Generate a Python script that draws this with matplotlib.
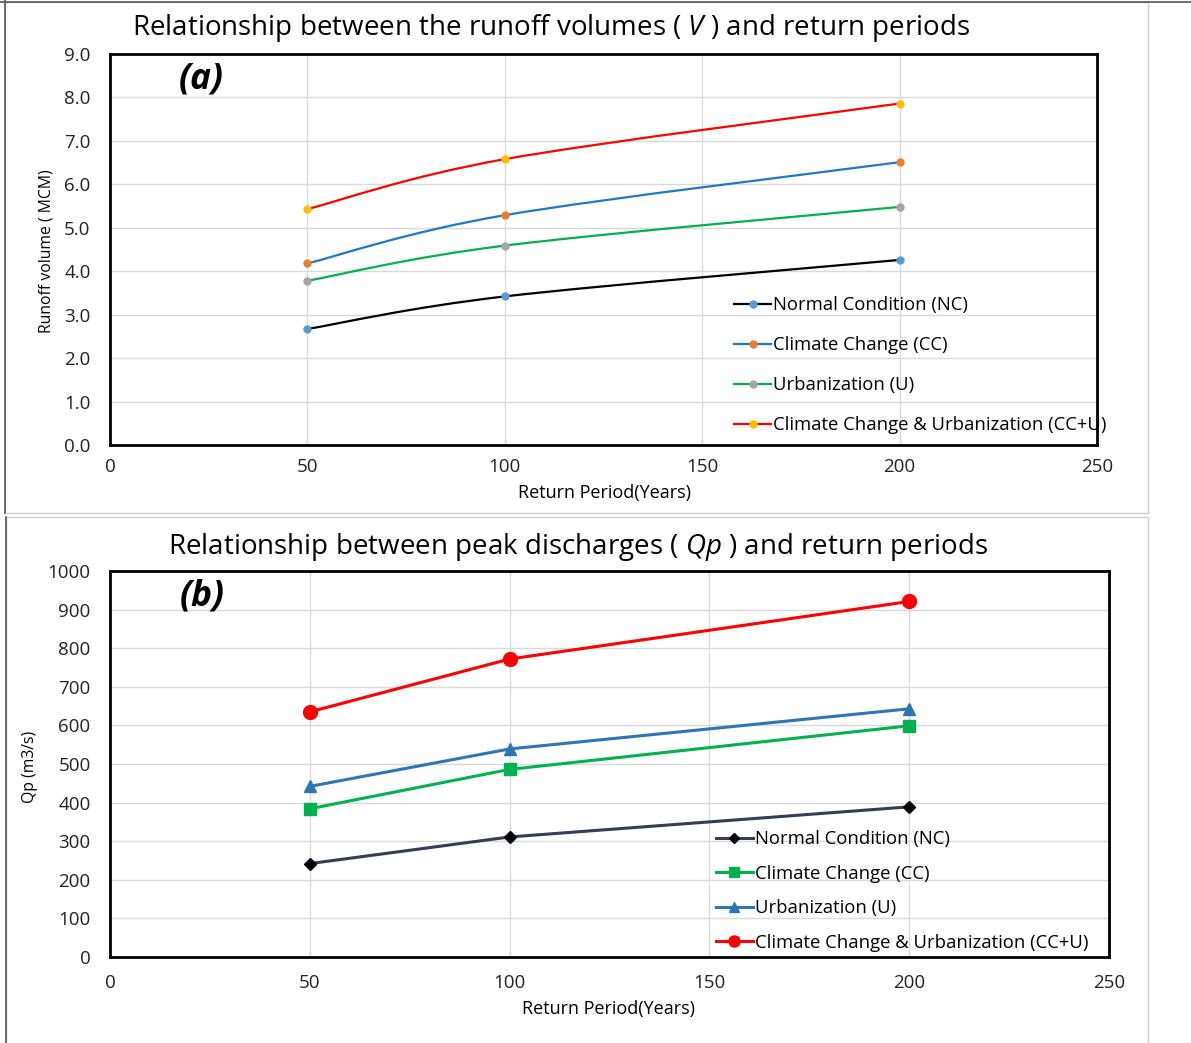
import numpy as np
import matplotlib
matplotlib.use("Agg")
import matplotlib.pyplot as plt
from matplotlib.path import Path
from matplotlib.patches import PathPatch, Rectangle
from matplotlib.lines import Line2D

plt.rcParams['font.family'] = ['Open Sans', 'DejaVu Sans']
plt.rcParams['mathtext.fontset'] = 'custom'
plt.rcParams['mathtext.it'] = 'Open Sans:italic'
plt.rcParams['mathtext.rm'] = 'Open Sans'

# data
periods = [50, 100, 200]
labels = ["Normal Condition (NC)", "Climate Change (CC)", "Urbanization (U)",
          "Climate Change & Urbanization (CC+U)"]

vol_nc = [2.67, 3.42, 4.26]
vol_cc = [4.18, 5.29, 6.51]
vol_u = [3.78, 4.59, 5.48]
vol_ccu = [5.43, 6.58, 7.86]

qp_nc = [242, 311, 389]
qp_cc = [384, 486, 599]
qp_u = [442, 539, 643]
qp_ccu = [635, 772, 921]


def smooth_path(x, y):
    # excel style smoothed line: bezier through points (catmull-rom, 1/6)
    P = np.column_stack([x, y]).astype(float)
    n = len(P)
    verts = [P[0]]
    codes = [Path.MOVETO]
    for i in range(n - 1):
        p0 = P[i - 1] if i > 0 else P[i]
        p1 = P[i]
        p2 = P[i + 1]
        p3 = P[i + 2] if i + 2 < n else P[i + 1]
        c1 = p1 + (p2 - p0) / 6.0
        c2 = p2 - (p3 - p1) / 6.0
        verts += [c1, c2, p2]
        codes += [Path.CURVE4] * 3
    return Path(verts, codes)


fig = plt.figure(figsize=(11.91, 10.43), dpi=100)

# chart-area frames
fig.patches.append(Rectangle((5 / 1191, 1 - 513 / 1043), 1143 / 1191, 511 / 1043,
                             transform=fig.transFigure, fill=False,
                             edgecolor='#d0d0d0', lw=1))
fig.patches.append(Rectangle((6 / 1191, -0.01), 1142 / 1191, 1 - 517 / 1043 + 0.01,
                             transform=fig.transFigure, fill=False,
                             edgecolor='#d0d0d0', lw=1))
fig.add_artist(Line2D([5 / 1191, 5 / 1191], [1 - 513 / 1043, 1], color='#555555', lw=1.2))
fig.add_artist(Line2D([0, 1], [1 - 2 / 1043, 1 - 2 / 1043], color='#555555', lw=1.2))
fig.add_artist(Line2D([6 / 1191, 6 / 1191], [0, 1 - 517 / 1043], color='#555555', lw=1.2))


def style_axes(ax, ymax, ystep, fmt, ypad, xpad):
    ax.set_xlim(0, 250)
    ax.set_ylim(0, ymax)
    ax.set_xticks(np.arange(0, 251, 50))
    ax.set_yticks(np.arange(0, ymax + ystep / 2, ystep))
    ax.set_yticklabels([fmt % v for v in np.arange(0, ymax + ystep / 2, ystep)])
    ax.grid(True, color='#d9d9d9', lw=1)
    ax.set_axisbelow(True)
    ax.tick_params(axis='both', length=0, labelsize=13.5, colors='#222222')
    ax.tick_params(axis='y', pad=ypad)
    ax.tick_params(axis='x', pad=xpad)
    for s in ax.spines.values():
        s.set_linewidth(2)
        s.set_color('black')


# ---- (a) runoff volumes
ax1 = fig.add_axes([110 / 1191, 1 - 445 / 1043, 987 / 1191, 391 / 1043])
style_axes(ax1, 9.0, 1.0, '%.1f', 14, 9)

top_series = [vol_nc, vol_cc, vol_u, vol_ccu]
top_lines = ['black', '#1f77c8', '#00b050', '#ff0000']
top_marks = ['#5b9bd5', '#ed7d31', '#a5a5a5', '#ffc000']
handles = []
for vals, lc, mc, lab in zip(top_series, top_lines, top_marks, labels):
    ax1.add_patch(PathPatch(smooth_path(periods, vals), fill=False, edgecolor=lc, lw=1.6))
    ax1.plot(periods, vals, ls='none', marker='o', ms=5, mfc=mc, mec=mc)
    handles.append(Line2D([], [], color=lc, lw=1.6, marker='o', ms=5, mfc=mc, mec=mc))
ax1.legend(handles, labels, loc='upper left', bbox_to_anchor=(0.625, 0.40),
           frameon=False, fontsize=13.3, labelspacing=1.2, handlelength=2.0,
           handletextpad=0.1, borderaxespad=0)
ax1.text(0.07, 0.935, '(a)', transform=ax1.transAxes, fontsize=25.5,
         fontweight='bold', fontstyle='italic', va='center', ha='left')

fig.text(551 / 1191, 1 - 28 / 1043, 'Relationship between the runoff volumes ( $V$ ) and return periods',
         ha='center', va='center', fontsize=20)
fig.text(604 / 1191, 1 - 493 / 1043, 'Return Period(Years)', ha='center', va='center', fontsize=13)
fig.text(47 / 1191, 1 - 251 / 1043, 'Runoff volume ( MCM)', ha='center', va='center',
         rotation=90, fontsize=11.3)

# ---- (b) peak discharges
ax2 = fig.add_axes([110 / 1191, 1 - 957 / 1043, 999 / 1191, 386 / 1043])
style_axes(ax2, 1000, 100, '%d', 14, 12)

bot_series = [qp_nc, qp_cc, qp_u, qp_ccu]
bot_colors = ['#333f50', '#00b050', '#2e75b6', '#ff0000']
bot_marks = ['D', 's', '^', 'o']
bot_mfc = ['black', '#00b050', '#2e75b6', '#ff0000']
bot_ms = [6.5, 9, 9, 10]
handles = []
for vals, c, m, mf, ms, lab in zip(bot_series, bot_colors, bot_marks, bot_mfc, bot_ms, labels):
    ax2.plot(periods, vals, color=c, lw=2.2, marker=m, ms=ms, mfc=mf, mec=mf, label=lab)
    handles.append(Line2D([], [], color=c, lw=2.2, marker=m, ms=ms * 0.8, mfc=mf, mec=mf))
ax2.legend(handles, labels, loc='upper left', bbox_to_anchor=(0.599, 0.348),
           frameon=False, fontsize=13.3, labelspacing=0.9, handlelength=2.0,
           handletextpad=0.1, borderaxespad=0)
ax2.text(0.07, 0.935, '(b)', transform=ax2.transAxes, fontsize=25.5,
         fontweight='bold', fontstyle='italic', va='center', ha='left')

fig.text(578 / 1191, 1 - 547 / 1043, 'Relationship between peak discharges ( $Qp$ ) and return periods',
         ha='center', va='center', fontsize=20)
fig.text(609 / 1191, 1 - 1009 / 1043, 'Return Period(Years)', ha='center', va='center', fontsize=13)
fig.text(30 / 1191, 1 - 767 / 1043, 'Qp (m3/s)', ha='center', va='center',
         rotation=90, fontsize=11.3)

fig.savefig('out.png', dpi=100)
